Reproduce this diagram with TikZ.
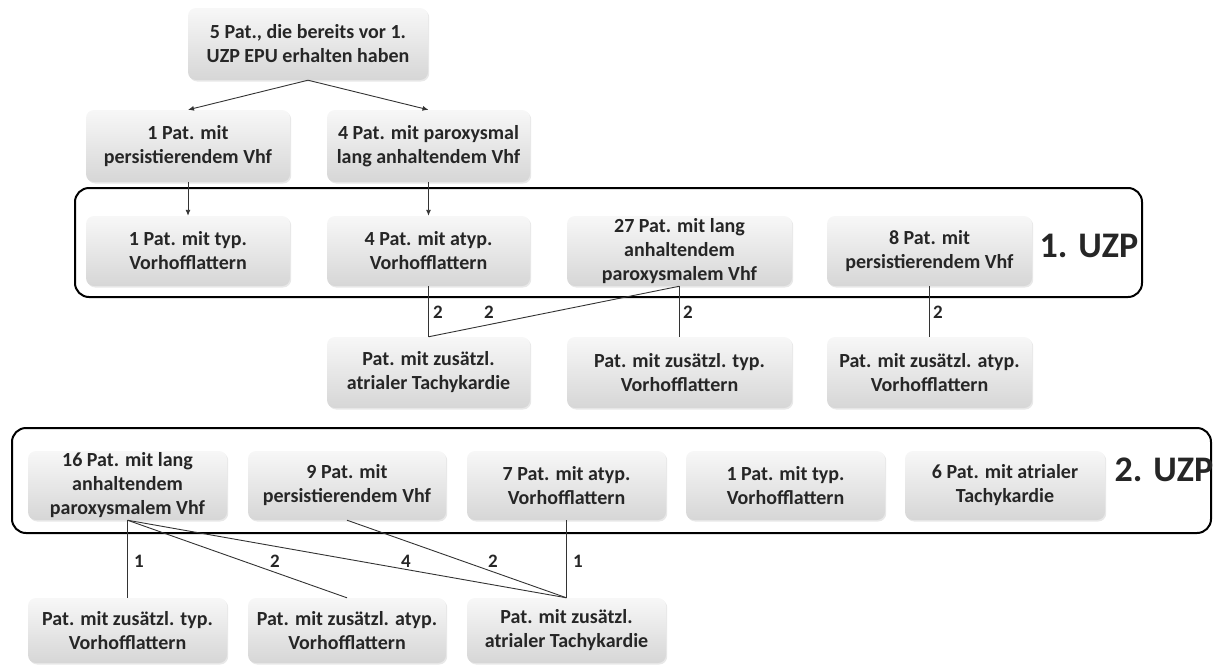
\documentclass[tikz,border=0pt]{standalone}
\usepackage{fontspec}
\setmainfont{Carlito}
\usetikzlibrary{shadows,arrows.meta}
\begin{document}
\begin{tikzpicture}[x=1pt,y=-1pt,
  box/.style={rounded corners=8pt, top color=black!3, bottom color=black!16, draw=none,
    align=center, inner sep=0pt, font=\bfseries\fontsize{20}{24}\selectfont, text=black!85,
    drop shadow={opacity=0.18, shadow xshift=1.2pt, shadow yshift=-1.5pt}},
  frame/.style={draw=black, line width=2pt, rounded corners=14pt},
  conn/.style={draw=black!80, line width=0.9pt},
  arr/.style={conn, -{Latex[length=6pt,width=5pt]}},
  num/.style={font=\bfseries\fontsize{19}{22}\selectfont, text=black!85, inner sep=0pt},
  uzp/.style={font=\bfseries\fontsize{36}{40}\selectfont, text=black!85, inner sep=0pt}]
\useasboundingbox (0,0) rectangle (1214,664);

% frames
\draw[frame] (75,188) rectangle (1142,297);
\draw[frame] (12,428) rectangle (1211,533);
\node[uzp] (l1) at (1089,246) {1. UZP};
\node[uzp] (l2) at (1164,470) {2. UZP};

% top
\node[box, minimum width=240pt, minimum height=72pt] (top) at (308,44) {5 Pat., die bereits vor 1.\\UZP EPU erhalten haben};
\node[box, minimum width=204pt, minimum height=72pt] (p1) at (188,146) {1 Pat. mit\\persistierendem Vhf};
\node[box, minimum width=203pt, minimum height=72pt] (p4) at (428.5,146) {4 Pat. mit paroxysmal\\lang anhaltendem Vhf};

% row 1. UZP
\node[box, minimum width=204pt, minimum height=70pt] (ua) at (188,251) {1 Pat. mit typ.\\Vorhofflattern};
\node[box, minimum width=203pt, minimum height=70pt] (ub) at (428.5,251) {4 Pat. mit atyp.\\Vorhofflattern};
\node[box, minimum width=225pt, minimum height=70pt] (uc) at (679.5,251) {27 Pat. mit lang\\anhaltendem\\paroxysmalem Vhf};
\node[box, minimum width=205pt, minimum height=70pt] (ud) at (929.5,251) {8 Pat. mit\\persistierendem Vhf};

% row 4
\node[box, minimum width=203pt, minimum height=71pt] (ra) at (428.5,372.5) {Pat. mit zusätzl.\\atrialer Tachykardie};
\node[box, minimum width=225pt, minimum height=71pt] (rb) at (679.5,372.5) {Pat. mit zusätzl. typ.\\Vorhofflattern};
\node[box, minimum width=205pt, minimum height=71pt] (rc) at (929.5,372.5) {Pat. mit zusätzl. atyp.\\Vorhofflattern};

% row 2. UZP
\node[box, minimum width=199pt, minimum height=69pt] (va) at (127.5,485.5) {16 Pat. mit lang\\anhaltendem\\paroxysmalem Vhf};
\node[box, minimum width=198pt, minimum height=69pt] (vb) at (347,485.5) {9 Pat. mit\\persistierendem Vhf};
\node[box, minimum width=199pt, minimum height=69pt] (vc) at (566.5,485.5) {7 Pat. mit atyp.\\Vorhofflattern};
\node[box, minimum width=199pt, minimum height=69pt] (vd) at (785.5,485.5) {1 Pat. mit typ.\\Vorhofflattern};
\node[box, minimum width=200pt, minimum height=69pt] (ve) at (1005,485.5) {6 Pat. mit atrialer\\Tachykardie};

% bottom row
\node[box, minimum width=199pt, minimum height=65pt] (wa) at (127.5,630.5) {Pat. mit zusätzl. typ.\\Vorhofflattern};
\node[box, minimum width=198pt, minimum height=65pt] (wb) at (347,630.5) {Pat. mit zusätzl. atyp.\\Vorhofflattern};
\node[box, minimum width=199pt, minimum height=65pt] (wc) at (566.5,630.5) {Pat. mit zusätzl.\\atrialer Tachykardie};

% connectors top
\draw[arr] (top.south) -- (p1.north);
\draw[arr] (top.south) -- (p4.north);
\draw[arr] (p1.south) -- (ua.north);
\draw[arr] (p4.south) -- (ub.north);

% connectors 1. UZP
\draw[conn] (ub.south) -- (ra.north);
\draw[conn] (ra.north) -- (uc.south);
\draw[conn] (uc.south) -- (rb.north);
\draw[conn] (ud.south) -- (rc.north);
\node[num] (n1) at (438,312) {2};
\node[num] (n2) at (489,312) {2};
\node[num] (n3) at (688,312) {2};
\node[num] (n4) at (938,312) {2};

% connectors 2. UZP
\draw[conn] (va.south) -- (wa.north);
\draw[conn] (va.south) -- (wb.north);
\draw[conn] (va.south) -- (wc.north);
\draw[conn] (vb.south) -- (wc.north);
\draw[conn] (vc.south) -- (wc.north);
\node[num] (m1) at (139,561) {1};
\node[num] (m2) at (275,561) {2};
\node[num] (m3) at (406,561) {4};
\node[num] (m4) at (493,561) {2};
\node[num] (m5) at (578,561) {1};
\end{tikzpicture}
\end{document}
